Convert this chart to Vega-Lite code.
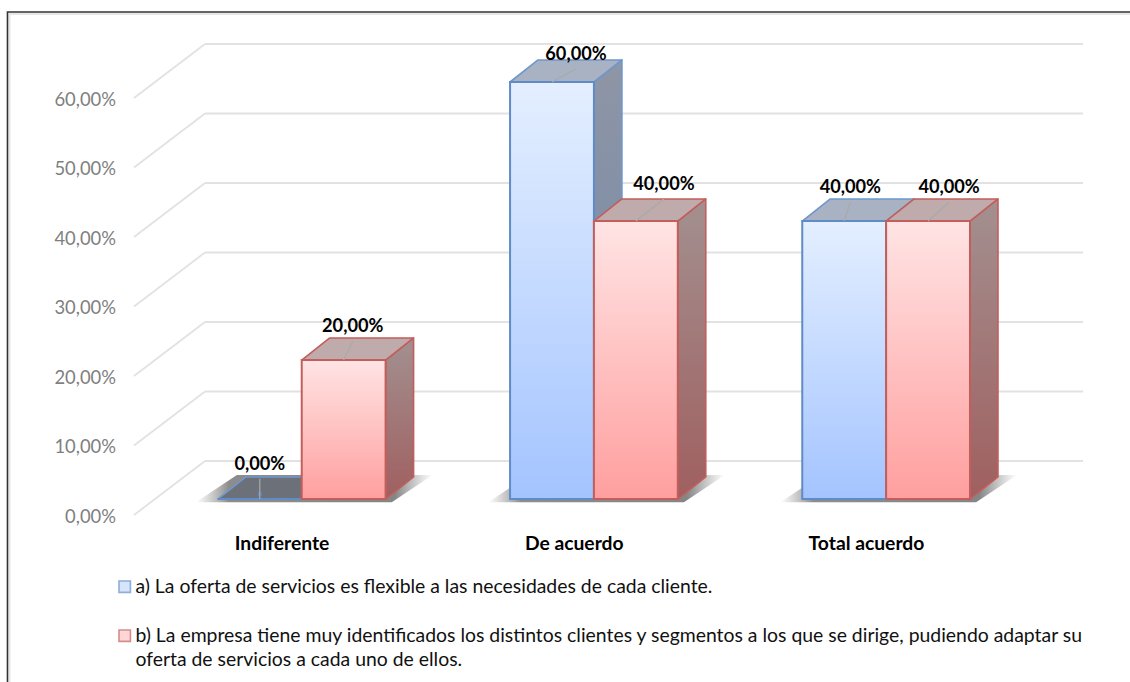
{
  "$schema": "https://vega.github.io/schema/vega-lite/v6.json",
  "autosize": {"type": "none"},
  "width": 950,
  "height": 500,
  "padding": {"left": 134, "top": 15, "right": 46, "bottom": 167},
  "background": "#ffffff",
  "config": {"view": {"stroke": null}, "font": "Lato", "style": {"guide-label": {"lineHeight": 24}}},
  "datasets": {
    "respuestas": [
      {"categoria": "Indiferente", "serie": "a) La oferta de servicios es flexible a las necesidades de cada cliente.", "valor": 0},
      {"categoria": "Indiferente", "serie": "b) La empresa tiene muy identificados los distintos clientes y segmentos a los que se dirige, pudiendo adaptar su oferta de servicios a cada uno de ellos.", "valor": 20},
      {"categoria": "De acuerdo", "serie": "a) La oferta de servicios es flexible a las necesidades de cada cliente.", "valor": 60},
      {"categoria": "De acuerdo", "serie": "b) La empresa tiene muy identificados los distintos clientes y segmentos a los que se dirige, pudiendo adaptar su oferta de servicios a cada uno de ellos.", "valor": 40},
      {"categoria": "Total acuerdo", "serie": "a) La oferta de servicios es flexible a las necesidades de cada cliente.", "valor": 40},
      {"categoria": "Total acuerdo", "serie": "b) La empresa tiene muy identificados los distintos clientes y segmentos a los que se dirige, pudiendo adaptar su oferta de servicios a cada uno de ellos.", "valor": 40}
    ],
    "marcas": [{"v": 0}, {"v": 10}, {"v": 20}, {"v": 30}, {"v": 40}, {"v": 50}, {"v": 60}]
  },
  "data": {"name": "respuestas"},
  "transform": [
    {"calculate": "indexof(['Indiferente','De acuerdo','Total acuerdo'], datum.categoria)", "as": "cat"},
    {"calculate": "substring(datum.serie, 0, 1) == 'a' ? 0 : 1", "as": "ser"},
    {"calculate": "datum.cat * 2 + datum.ser", "as": "id"},
    {"calculate": "datum.cat + 0.287 + datum.ser * 0.287", "as": "xa"},
    {"calculate": "datum.xa + 0.287", "as": "xb"},
    {"calculate": "datum.valor + 2.3", "as": "yf"},
    {"calculate": "(datum.xa + datum.xb) / 2", "as": "xc"},
    {"calculate": "datum.xc + [0, 0.031, 0.082, 0.096, 0.021, 0.072][datum.id]", "as": "xe"},
    {"calculate": "datum.yf + [4.95, 4.75, 3.95, 5.25, 4.75, 4.75][datum.id]", "as": "ye"},
    {"calculate": "datum.yf + min(3.17, datum.ye - datum.yf - 2.05)", "as": "yl"}
  ],
  "layer": [
    {
      "description": "Marco exterior del grafico, abierto por abajo y a la derecha",
      "data": {"values": [{"x0": -0.426, "x1": 3.5, "y0": -30, "y1": 72.1}]},
      "transform": [],
      "mark": {"type": "rect", "fill": null, "stroke": "#e6e6e6", "strokeWidth": 2},
      "encoding": {
        "x": {"field": "x0", "type": "quantitative", "scale": {"domain": [0, 3.2512], "nice": false, "zero": false}, "axis": {"title": null, "domain": false, "ticks": false, "grid": false, "values": [0.505, 1.505, 2.505], "labelExpr": "datum.value < 1 ? 'Indiferente' : datum.value < 2 ? 'De acuerdo' : 'Total acuerdo'", "labelFont": "Lato", "labelFontSize": 19.3, "labelFontWeight": "bold", "labelColor": "#000000", "labelPadding": 19, "labelFlush": false, "labelOverlap": false}},
        "x2": {"field": "x1"},
        "y": {"field": "y0", "type": "quantitative", "scale": {"domain": [0, 71.94], "nice": false, "zero": false}, "axis": {"title": null, "domain": false, "ticks": false, "grid": false, "values": [0, 10, 20, 30, 40, 50, 60], "labelExpr": "replace(format(datum.value, '.2f'), '.', ',') + '%'", "labelFont": "Lato", "labelFontSize": 18.4, "labelColor": "#7f7f7f", "labelPadding": 18.5, "labelOffset": 1.5}},
        "y2": {"field": "y1"}
      }
    },
    {
      "data": {"values": [{"x0": -0.433, "x1": 3.5, "y0": -30, "y1": 72.37}]},
      "transform": [],
      "mark": {"type": "rect", "fill": null, "stroke": "#333333", "strokeWidth": 1.6},
      "encoding": {
        "x": {"field": "x0", "type": "quantitative"},
        "x2": {"field": "x1"},
        "y": {"field": "y0", "type": "quantitative"},
        "y2": {"field": "y1"}
      }
    },
    {
      "description": "Lineas de la pared lateral",
      "data": {"name": "marcas"},
      "transform": [
        {"calculate": "datum.v + 7.77", "as": "vb"},
        {"calculate": "0", "as": "x0"},
        {"calculate": "0.243", "as": "x1"}
      ],
      "mark": {"type": "rule", "stroke": "#e2e2e2", "strokeWidth": 1.8},
      "encoding": {
        "x": {"field": "x0", "type": "quantitative"},
        "x2": {"field": "x1"},
        "y": {"field": "v", "type": "quantitative"},
        "y2": {"field": "vb"}
      }
    },
    {
      "description": "Lineas de la pared del fondo",
      "data": {"name": "marcas"},
      "transform": [
        {"calculate": "datum.v + 7.77", "as": "vb"},
        {"calculate": "0.243", "as": "x0"},
        {"calculate": "3.248", "as": "x1"}
      ],
      "mark": {"type": "rule", "stroke": "#e2e2e2", "strokeWidth": 2},
      "encoding": {
        "x": {"field": "x0", "type": "quantitative"},
        "x2": {"field": "x1"},
        "y": {"field": "vb", "type": "quantitative"}
      }
    },
    {
      "description": "Sombra de cada grupo sobre el suelo",
      "transform": [
        {"filter": "datum.ser == 0"},
        {"calculate": "[datum.xa - 0.075, datum.xa + 0.065, datum.xa + 0.595, datum.xa + 0.735]", "as": "cx"},
        {"calculate": "[1.85, 5.75, 5.75, 5.75]", "as": "cy"},
        {"calculate": "[1.85, 1.85, 1.85, 5.75]", "as": "cy2"},
        {"flatten": ["cx", "cy", "cy2"]}
      ],
      "mark": {
        "type": "area",
        "orient": "vertical",
        "fill": {
          "gradient": "linear", "x1": 0, "y1": 0, "x2": 1, "y2": 0,
          "stops": [
            {"offset": 0, "color": "rgba(140,140,140,0)"},
            {"offset": 0.14, "color": "rgba(120,120,120,0.85)"},
            {"offset": 0.84, "color": "rgba(120,120,120,0.9)"},
            {"offset": 1, "color": "rgba(140,140,140,0)"}
          ]
        }
      },
      "encoding": {
        "x": {"field": "cx", "type": "quantitative"},
        "y": {"field": "cy", "type": "quantitative", "stack": null},
        "y2": {"field": "cy2"},
        "detail": {"field": "cat"}
      }
    },
    {
      "description": "Cara lateral de las barras",
      "transform": [
        {"filter": "datum.valor > 0"},
        {"calculate": "[datum.xb, datum.xb + 0.0958]", "as": "cx"},
        {"calculate": "[datum.yf, datum.yf + 3.17]", "as": "cy"},
        {"calculate": "[2.3, 5.47]", "as": "cy2"},
        {"flatten": ["cx", "cy", "cy2"]}
      ],
      "mark": {"type": "area", "orient": "vertical", "strokeWidth": 1.6, "strokeJoin": "round"},
      "encoding": {
        "x": {"field": "cx", "type": "quantitative"},
        "y": {"field": "cy", "type": "quantitative", "stack": null},
        "y2": {"field": "cy2"},
        "detail": {"field": "id"},
        "fill": {
          "condition": {"test": "datum.ser == 0", "value": {"gradient": "linear", "x1": 0, "y1": 0, "x2": 0, "y2": 1, "stops": [{"offset": 0, "color": "#8f96a5"}, {"offset": 1, "color": "#6d84a9"}]}},
          "value": {"gradient": "linear", "x1": 0, "y1": 0, "x2": 0, "y2": 1, "stops": [{"offset": 0, "color": "#a39090"}, {"offset": 1, "color": "#a05f5f"}]}
        },
        "stroke": {"condition": {"test": "datum.ser == 0", "value": "#6f97cc"}, "value": "#c25e5b"}
      }
    },
    {
      "description": "Cara superior de las barras",
      "transform": [
        {"calculate": "[datum.xa, datum.xa + 0.0958, datum.xb, datum.xb + 0.0958]", "as": "cx"},
        {"calculate": "[datum.yf, datum.yf + 3.17, datum.yf + 3.17, datum.yf + 3.17]", "as": "cy"},
        {"calculate": "[datum.yf, datum.yf, datum.yf, datum.yf + 3.17]", "as": "cy2"},
        {"flatten": ["cx", "cy", "cy2"]}
      ],
      "mark": {"type": "area", "orient": "vertical", "strokeWidth": 1.6, "strokeJoin": "round"},
      "encoding": {
        "x": {"field": "cx", "type": "quantitative"},
        "y": {"field": "cy", "type": "quantitative", "stack": null},
        "y2": {"field": "cy2"},
        "detail": {"field": "id"},
        "fill": {
          "condition": [
            {"test": "datum.valor == 0", "value": "#6c7179"},
            {"test": "datum.ser == 0", "value": "#a9b2c3"}
          ],
          "value": "#bfabab"
        },
        "stroke": {"condition": {"test": "datum.ser == 0", "value": "#6f97cc"}, "value": "#c25e5b"}
      }
    },
    {
      "description": "Cuadros bajo las barras que alimentan la leyenda de series",
      "mark": {"type": "square", "size": 4, "filled": true},
      "encoding": {
        "x": {"field": "xc", "type": "quantitative"},
        "y": {"datum": 3},
        "fill": {
          "field": "serie",
          "type": "nominal",
          "scale": {
            "domain": [
              "a) La oferta de servicios es flexible a las necesidades de cada cliente.",
              "b) La empresa tiene muy identificados los distintos clientes y segmentos a los que se dirige, pudiendo adaptar su oferta de servicios a cada uno de ellos."
            ],
            "range": ["#c6dafc", "#ffc4c4"]
          },
          "legend": {
            "title": null,
            "orient": "none",
            "legendX": -19,
            "legendY": 562,
            "direction": "vertical",
            "symbolType": "square",
            "symbolSize": 130,
            "symbolStrokeWidth": 1.6,
            "labelFont": "Lato",
            "labelFontSize": 19.4,
            "labelColor": "#111111",
            "labelLimit": 1000,
            "labelOffset": 1,
            "rowPadding": 28,
            "labelExpr": "split(replace(datum.label, 'su oferta', 'su|oferta'), '|')"
          }
        },
        "stroke": {
          "field": "serie",
          "type": "nominal",
          "scale": {
            "domain": [
              "a) La oferta de servicios es flexible a las necesidades de cada cliente.",
              "b) La empresa tiene muy identificados los distintos clientes y segmentos a los que se dirige, pudiendo adaptar su oferta de servicios a cada uno de ellos."
            ],
            "range": ["#5f8cc6", "#c25e5b"]
          }
        }
      }
    },
    {
      "description": "Cara frontal de las barras",
      "mark": {"type": "rect", "strokeWidth": 2},
      "encoding": {
        "x": {"field": "xa", "type": "quantitative"},
        "x2": {"field": "xb"},
        "y": {"field": "yf", "type": "quantitative"},
        "y2": {"datum": 2.3},
        "fill": {
          "condition": {"test": "datum.ser == 0", "value": {"gradient": "linear", "x1": 0, "y1": 0, "x2": 0, "y2": 1, "stops": [{"offset": 0, "color": "#e4efff"}, {"offset": 1, "color": "#a4c4ff"}]}},
          "value": {"gradient": "linear", "x1": 0, "y1": 0, "x2": 0, "y2": 1, "stops": [{"offset": 0, "color": "#ffe4e4"}, {"offset": 1, "color": "#ff9f9f"}]}
        },
        "stroke": {"condition": {"test": "datum.ser == 0", "value": "#5f8cc6"}, "value": "#c25e5b"}
      }
    },
    {
      "description": "Lineas guia de las etiquetas",
      "mark": {"type": "rule", "stroke": "#a9a9a9", "strokeWidth": 1.2},
      "encoding": {
        "x": {"field": "xc", "type": "quantitative"},
        "x2": {"field": "xe"},
        "y": {"field": "yf", "type": "quantitative"},
        "y2": {"field": "yl"}
      }
    },
    {
      "description": "Etiquetas con el porcentaje de cada barra",
      "transform": [
        {"calculate": "replace(format(datum.valor, '.2f'), '.', ',') + '%'", "as": "etiqueta"}
      ],
      "mark": {"type": "text", "font": "Lato", "fontSize": 18.2, "fontWeight": "bold", "color": "#000000", "align": "center", "baseline": "middle"},
      "encoding": {
        "x": {"field": "xe", "type": "quantitative"},
        "y": {"field": "ye", "type": "quantitative"},
        "text": {"field": "etiqueta"}
      }
    }
  ]
}
